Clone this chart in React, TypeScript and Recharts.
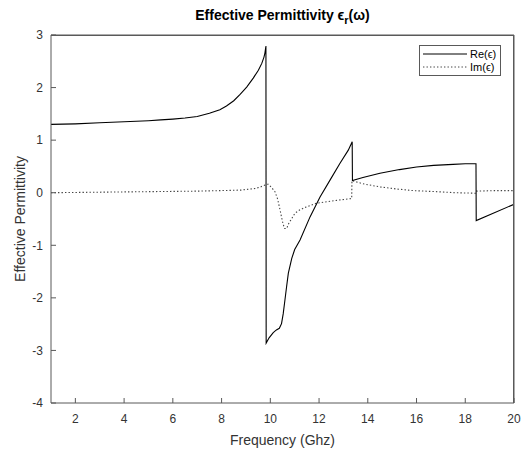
import React from "react";
import { LineChart, Line, XAxis, YAxis } from "recharts";

// Re(eps) samples
const reFreq = [
  1, 2, 3, 4, 5, 5.5, 6, 6.5, 7, 7.5, 7.93, 8.2, 8.5, 8.76, 9.03, 9.3, 9.51,
  9.65, 9.74, 9.78, 9.82, 9.83, 9.95, 10.12, 10.25, 10.37, 10.46, 10.53, 10.6,
  10.67, 10.74, 10.88, 11.0, 11.22, 11.63, 12.04, 12.45, 12.86, 13.2, 13.36,
  13.37, 13.8, 14.5, 15.3, 16.0, 16.7, 17.5, 18.0, 18.44, 18.45, 20,
];
const reVal = [
  1.3, 1.31, 1.33, 1.35, 1.37, 1.385, 1.4, 1.42, 1.45, 1.51, 1.58, 1.65, 1.75,
  1.87, 2.01, 2.18, 2.33, 2.46, 2.58, 2.66, 2.79, -2.86, -2.76, -2.66, -2.61,
  -2.58, -2.49, -2.3, -2.04, -1.78, -1.53, -1.25, -1.08, -0.9, -0.46, -0.08,
  0.24, 0.56, 0.81, 0.97, 0.23, 0.29, 0.37, 0.44, 0.49, 0.52, 0.54, 0.55,
  0.55, -0.53, -0.22,
];

// Im(eps) samples
const imFreq = [
  1, 3, 5, 7, 7.93, 8.8, 9.37, 9.6, 9.85, 9.92, 10.05, 10.19, 10.3, 10.4,
  10.5, 10.58, 10.67, 10.76, 10.88, 11.01, 11.2, 11.42, 11.9, 12.65, 13.34,
  13.35, 13.8, 14.5, 15.2, 15.87, 16.8, 17.6, 18.44, 18.46, 19.2, 20,
];
const imVal = [
  0.0, 0.01, 0.02, 0.03, 0.04, 0.05, 0.08, 0.11, 0.16, 0.16, 0.1, 0.02,
  -0.12, -0.33, -0.55, -0.68, -0.68, -0.58, -0.49, -0.39, -0.33, -0.28, -0.2,
  -0.15, -0.11, 0.23, 0.17, 0.11, 0.07, 0.04, 0.02, 0.0, -0.01, 0.03, 0.04,
  0.04,
];

const xTicks = [2, 4, 6, 8, 10, 12, 14, 16, 18, 20];
const yTicks = [-4, -3, -2, -1, 0, 1, 2, 3];

const reData = reFreq.map((f, i) => ({ f, v: reVal[i] }));
const imData = imFreq.map((f, i) => ({ f, v: imVal[i] }));

const W = 524;
const H = 452;
const marginTop = 34;
const marginRight = 9;
const yAxisW = 51;
const xAxisH = 49;

const axisColor = "#595959";
const textColor = "#333";
const font = "'Liberation Sans', Arial, Helvetica, sans-serif";
const dotted = "1.4 2.1";

export default function App() {
  return (
    <div
      style={{
        position: "absolute",
        left: 0,
        top: 0,
        width: W,
        height: H,
        background: "#fff",
        fontFamily: font,
      }}
    >
      <div
        style={{
          position: "absolute",
          left: yAxisW,
          width: W - yAxisW - marginRight - 1,
          top: 7,
          textAlign: "center",
          fontWeight: "bold",
          fontSize: 14,
          color: "#000",
        }}
      >
        Effective Permittivity ϵ<sub style={{ fontSize: 11 }}>r</sub>(ω)
      </div>

      <LineChart
        width={W}
        height={H}
        margin={{ top: marginTop, right: marginRight, bottom: 0, left: 0 }}
      >
        <XAxis
          dataKey="f"
          type="number"
          domain={[1, 20]}
          ticks={xTicks}
          allowDataOverflow
          height={xAxisH}
          tickSize={-5}
          tickMargin={16}
          tick={{ fill: textColor, fontSize: 12 }}
          axisLine={{ stroke: axisColor }}
          tickLine={{ stroke: axisColor }}
          label={{
            value: "Frequency (Ghz)",
            position: "insideBottom",
            offset: 7,
            fill: textColor,
            fontSize: 14,
          }}
        />
        <XAxis
          xAxisId="top"
          orientation="top"
          dataKey="f"
          type="number"
          domain={[1, 20]}
          ticks={xTicks}
          allowDataOverflow
          height={1}
          tickSize={-5}
          tick={false}
          axisLine={{ stroke: axisColor }}
          tickLine={{ stroke: axisColor }}
        />
        <YAxis
          type="number"
          domain={[-4, 3]}
          ticks={yTicks}
          allowDataOverflow
          width={yAxisW}
          tickSize={-5}
          tickMargin={13}
          tick={{ fill: textColor, fontSize: 12 }}
          axisLine={{ stroke: axisColor }}
          tickLine={{ stroke: axisColor }}
          label={{
            value: "Effective Permittivity",
            angle: -90,
            position: "insideLeft",
            offset: 20,
            fill: textColor,
            fontSize: 14,
            style: { textAnchor: "middle" },
          }}
        />
        <YAxis
          yAxisId="right"
          orientation="right"
          type="number"
          domain={[-4, 3]}
          ticks={yTicks}
          allowDataOverflow
          width={1}
          tickSize={-5}
          tick={false}
          axisLine={{ stroke: axisColor }}
          tickLine={{ stroke: axisColor }}
        />
        <Line
          xAxisId="top"
          yAxisId="right"
          data={reData}
          dataKey="v"
          stroke="none"
          dot={false}
          activeDot={false}
          legendType="none"
          isAnimationActive={false}
        />
        <Line
          data={imData}
          dataKey="v"
          type="linear"
          stroke="#444"
          strokeWidth={1.1}
          strokeDasharray={dotted}
          dot={false}
          isAnimationActive={false}
        />
        <Line
          data={reData}
          dataKey="v"
          type="linear"
          stroke="#000"
          strokeWidth={1.1}
          dot={false}
          isAnimationActive={false}
        />
      </LineChart>

      {/* top/right edges of the box */}
      <div
        style={{
          position: "absolute",
          left: yAxisW,
          top: marginTop + 1 - 0.5,
          width: W - yAxisW - marginRight - 1,
          height: H - xAxisH - marginTop - 1,
          borderTop: `1px solid ${axisColor}`,
          borderRight: `1px solid ${axisColor}`,
          boxSizing: "border-box",
          pointerEvents: "none",
        }}
      />

      <div
        style={{
          position: "absolute",
          left: 419,
          top: 45,
          width: 80,
          height: 29,
          border: `1px solid ${axisColor}`,
          background: "#fff",
          fontSize: 11,
          color: "#000",
        }}
      >
        {[
          { name: "Re(ϵ)", dash: undefined, color: "#000" },
          { name: "Im(ϵ)", dash: dotted, color: "#444" },
        ].map((item, i) => (
          <div
            key={item.name}
            style={{
              position: "absolute",
              left: 3,
              top: 1 + i * 13,
              height: 13,
              display: "flex",
              alignItems: "center",
            }}
          >
            <svg width={44} height={6}>
              <line
                x1={0}
                y1={3}
                x2={44}
                y2={3}
                stroke={item.color}
                strokeWidth={1}
                strokeDasharray={item.dash}
              />
            </svg>
            <span style={{ marginLeft: 3 }}>{item.name}</span>
          </div>
        ))}
      </div>
    </div>
  );
}
